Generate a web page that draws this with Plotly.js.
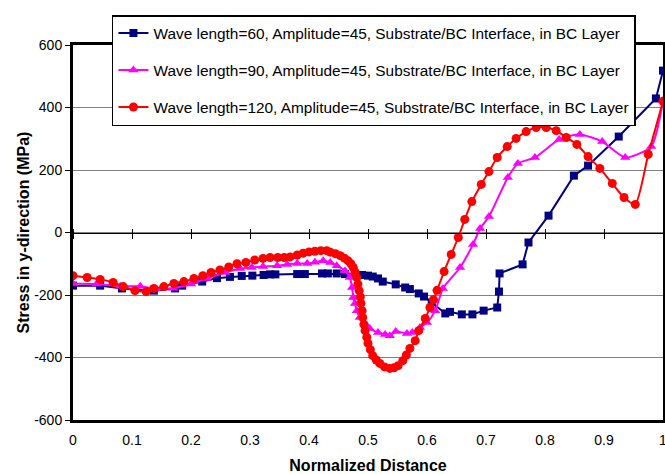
<!DOCTYPE html>
<html>
<head>
<meta charset="utf-8">
<script src="https://cdn.plot.ly/plotly-3.0.1.min.js"></script>
<style>html,body{margin:0;padding:0;background:#fff;}#chart{width:665px;height:474px;}</style>
</head>
<body>
<div id="chart"></div>
<script>
// ---- data ----
const seriesNames = [
  "Wave length=60, Amplitude=45, Substrate/BC Interface, in BC Layer",
  "Wave length=90, Amplitude=45, Substrate/BC Interface, in BC Layer",
  "Wave length=120, Amplitude=45, Substrate/BC Interface, in BC Layer"
];

const x60 = [0.0, 0.046, 0.083, 0.137, 0.173, 0.185, 0.219, 0.244, 0.266, 0.286, 0.304, 0.323, 0.334, 0.343, 0.380, 0.393, 0.422, 0.432, 0.447, 0.461, 0.478, 0.490, 0.500, 0.508, 0.517, 0.525, 0.547, 0.563, 0.571, 0.586, 0.595, 0.608, 0.631, 0.639, 0.659, 0.677, 0.696, 0.719, 0.722, 0.723, 0.762, 0.772, 0.806, 0.849, 0.873, 0.925, 0.988, 1.0];
const y60 = [-170, -170, -179, -186, -179, -170, -157, -146, -142, -139, -138, -136, -134, -134, -133, -133, -131, -131, -131, -133, -134, -136, -138, -141, -147, -157, -166, -176, -181, -195, -205, -224, -259, -254, -262, -262, -250, -240, -189, -131, -102, -32, 54, 182, 214, 307, 429, 518];

const x90 = [0.0, 0.04, 0.08, 0.114, 0.14, 0.17, 0.20, 0.227, 0.258, 0.283, 0.303, 0.322, 0.346, 0.363, 0.38, 0.397, 0.41, 0.424, 0.436, 0.447, 0.461, 0.469, 0.473, 0.475, 0.478, 0.481, 0.486, 0.495, 0.503, 0.517, 0.529, 0.537, 0.547, 0.566, 0.575, 0.588, 0.6, 0.614, 0.627, 0.656, 0.678, 0.69, 0.705, 0.737, 0.754, 0.783, 0.824, 0.859, 0.897, 0.936, 0.98, 1.0];
const y90 = [-163, -165, -172, -172, -180, -178, -165, -147, -128, -115, -112, -109, -106, -102, -99, -99, -95, -90, -96, -106, -122, -144, -176, -208, -227, -250, -272, -291, -307, -320, -326, -330, -317, -323, -320, -304, -288, -250, -179, -112, -38, 13, 51, 176, 221, 240, 298, 314, 291, 240, 275, 422];

const x120 = [0.0, 0.024, 0.046, 0.068, 0.085, 0.105, 0.124, 0.137, 0.154, 0.171, 0.188, 0.205, 0.22, 0.234, 0.249, 0.264, 0.278, 0.293, 0.308, 0.322, 0.334, 0.347, 0.358, 0.368, 0.38, 0.39, 0.40, 0.41, 0.42, 0.43, 0.436, 0.445, 0.453, 0.46, 0.466, 0.471, 0.475, 0.478, 0.481, 0.483, 0.485, 0.487, 0.488, 0.49, 0.491, 0.493, 0.495, 0.498, 0.5, 0.504, 0.508, 0.514, 0.52, 0.528, 0.537, 0.544, 0.551, 0.559, 0.565, 0.571, 0.58, 0.586, 0.597, 0.605, 0.611, 0.617, 0.629, 0.641, 0.653, 0.664, 0.676, 0.692, 0.705, 0.719, 0.736, 0.751, 0.768, 0.785, 0.802, 0.819, 0.836, 0.854, 0.873, 0.893, 0.914, 0.934, 0.953, 0.975, 1.0];
const y120 = [-138, -144, -150, -160, -173, -186, -189, -179, -173, -163, -157, -147, -138, -128, -120, -110, -100, -96, -88, -83, -80, -80, -80, -78, -72, -66, -62, -60, -58, -58, -63, -68, -74, -82, -90, -100, -112, -126, -144, -165, -186, -206, -227, -250, -272, -294, -314, -335, -355, -375, -394, -408, -419, -430, -435, -433, -426, -410, -392, -371, -346, -314, -275, -240, -215, -185, -125, -70, -16, 42, 99, 154, 195, 240, 275, 301, 323, 336, 336, 326, 304, 282, 243, 205, 157, 112, 90, 250, 420];

const xTickVals = [0, 0.1, 0.2, 0.3, 0.4, 0.5, 0.6, 0.7, 0.8, 0.9, 1];
const xTickText = ["0", "0.1", "0.2", "0.3", "0.4", "0.5", "0.6", "0.7", "0.8", "0.9", "1"];
const yTickVals = [-600, -400, -200, 0, 200, 400, 600];
const yTickText = ["-600", "-400", "-200", "0", "200", "400", "600"];

const xTitle = "Normalized Distance";
const yTitle = "Stress in y-direction (MPa)";

// ---- chart ----
const FONT = "Arial, 'Liberation Sans', sans-serif";

const traces = [
  {x: x60, y: y60, name: seriesNames[0], legendgroup: "a", type: "scatter", mode: "lines+markers",
   line: {color: "#000080", width: 2},
   marker: {symbol: "square", size: 8, color: "#000080"}},
  {x: x90, y: y90, name: seriesNames[1], legendgroup: "b", type: "scatter", mode: "lines+markers",
   line: {color: "#FF00FF", width: 2, shape: "spline", smoothing: 0.6},
   marker: {symbol: "triangle-up", size: 9, color: "#FF00FF"}},
  {x: x120, y: y120, name: seriesNames[2], legendgroup: "c", type: "scatter", mode: "lines+markers",
   line: {color: "#FF0000", width: 2, shape: "spline", smoothing: 0.6},
   marker: {symbol: "circle", size: 9, color: "#FF0000"}},
  {x: [], y: [], xaxis: "x2", showlegend: false, hoverinfo: "skip", mode: "markers"},
  {x: [], y: [], xaxis: "x3", showlegend: false, hoverinfo: "skip", mode: "markers"}
];

const layout = {
  width: 665, height: 474,
  margin: {l: 73, r: 2, t: 45, b: 54, pad: 0},
  paper_bgcolor: "#ffffff", plot_bgcolor: "#ffffff",
  font: {family: FONT, size: 14, color: "#000"},
  showlegend: true,
  xaxis: {
    range: [0, 1], tickvals: xTickVals, ticktext: xTickText,
    ticks: "", ticklabelstandoff: 5, ticklabeloverflow: "allow",
    showline: true, linecolor: "#000", linewidth: 3, mirror: true,
    showgrid: false, zeroline: false,
    tickfont: {family: FONT, size: 14, color: "#000"},
    title: {text: "<b>" + xTitle + "</b>", font: {family: FONT, size: 16, color: "#000"}, standoff: 20},
    automargin: "top"
  },
  xaxis2: {
    overlaying: "x", anchor: "free", position: 0.5, side: "bottom",
    range: [0, 1], tickvals: xTickVals, ticks: "outside", ticklen: 5, tickcolor: "#000", tickwidth: 1,
    showticklabels: false, showline: true, linecolor: "#000", linewidth: 1,
    showgrid: false, zeroline: false
  },
  xaxis3: {
    overlaying: "x", anchor: "free", position: 0.5, side: "top",
    range: [0, 1], tickvals: xTickVals, ticks: "outside", ticklen: 4, tickcolor: "#000", tickwidth: 1,
    showticklabels: false, showline: false,
    showgrid: false, zeroline: false
  },
  yaxis: {
    range: [-600, 600], tickvals: yTickVals, ticktext: yTickText,
    ticks: "outside", ticklen: 5, tickcolor: "#000", tickwidth: 1,
    showline: true, linecolor: "#000", linewidth: 3, mirror: true,
    showgrid: true, gridcolor: "#808080", gridwidth: 1, zeroline: false,
    tickfont: {family: FONT, size: 14, color: "#000"},
    title: {text: "<b>" + yTitle + "</b>", font: {family: FONT, size: 16, color: "#000"}, standoff: 1},
    automargin: "right"
  },
  legend: {
    x: 0.066, y: 1.08, xanchor: "left", yanchor: "top",
    bgcolor: "#ffffff", bordercolor: "#000", borderwidth: 1.5,
    font: {family: FONT, size: 15.4, color: "#000"},
    traceorder: "grouped", tracegroupgap: 14, itemwidth: 30
  }
};

Plotly.newPlot("chart", traces, layout, {staticPlot: true, displayModeBar: false});
</script>
</body>
</html>
